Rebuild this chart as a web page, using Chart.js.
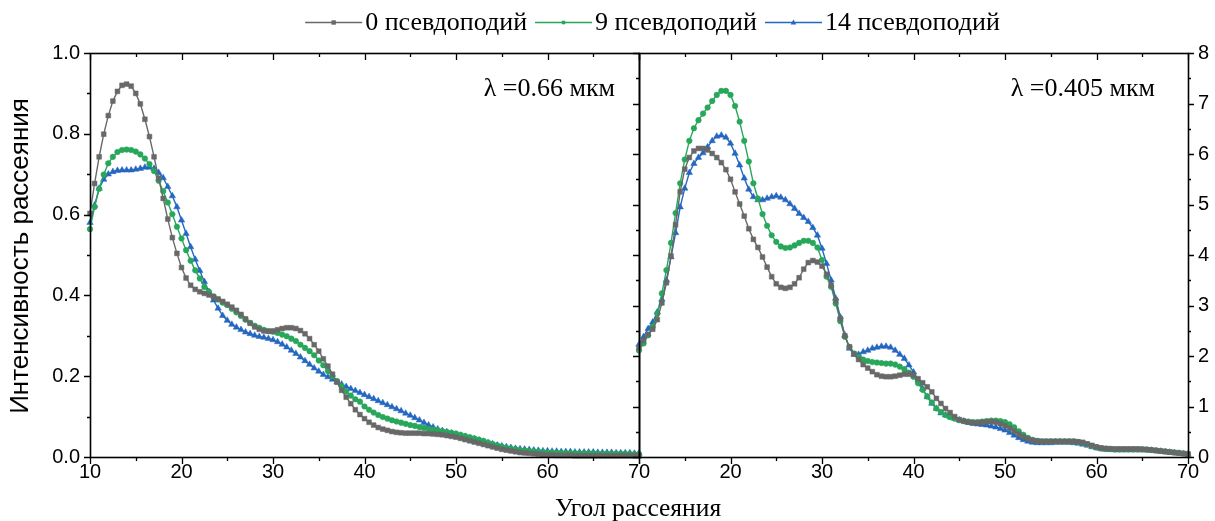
<!DOCTYPE html>
<html><head><meta charset="utf-8">
<script src="https://cdn.jsdelivr.net/npm/chart.js@4.4.1/dist/chart.umd.min.js"></script>
<style>
html,body{margin:0;padding:0;background:#fff;}
#wrap{position:relative;width:1215px;height:521px;background:#fff;}
canvas{position:absolute;left:0;top:0;}
</style></head>
<body><div id="wrap"><canvas id="cL" width="1215" height="521"></canvas><canvas id="cR" width="1215" height="521"></canvas></div>
<script>
// ---- data ----
const angles = Array.from({length: 121}, (_, i) => 10 + i * 0.5); // scattering angle, deg
const seriesNames = ['0 псевдоподий', '9 псевдоподий', '14 псевдоподий'];
const panelLabels = ['λ =0.66 мкм', 'λ =0.405 мкм'];
const xTitle = 'Угол рассеяния';
const yTitle = 'Интенсивность рассеяния';
const xTicks = [10, 20, 30, 40, 50, 60, 70];
const yTicksLeft = [0, 0.2, 0.4, 0.6, 0.8, 1.0];
const yTicksRight = [0, 1, 2, 3, 4, 5, 6, 7, 8];

// λ = 0.66 µm
const left0 = [
 0.603,0.677,0.743,0.799,0.845,0.881,0.905,0.920,0.923,0.918,
 0.900,0.874,0.836,0.793,0.743,0.690,0.640,0.589,0.543,0.504,
 0.469,0.443,0.425,0.415,0.409,0.405,0.401,0.396,0.391,0.385,
 0.378,0.371,0.363,0.353,0.342,0.331,0.322,0.316,0.312,0.311,
 0.312,0.315,0.318,0.320,0.320,0.318,0.313,0.305,0.293,0.278,
 0.262,0.243,0.225,0.205,0.185,0.165,0.148,0.132,0.117,0.105,
 0.095,0.086,0.079,0.073,0.069,0.066,0.063,0.061,0.060,0.059,
 0.059,0.059,0.059,0.058,0.058,0.057,0.056,0.055,0.053,0.051,
 0.049,0.046,0.043,0.040,0.037,0.034,0.031,0.028,0.025,0.022,
 0.019,0.017,0.015,0.013,0.011,0.010,0.009,0.008,0.007,0.006,
 0.005,0.005,0.004,0.004,0.004,0.004,0.003,0.003,0.003,0.003,
 0.003,0.003,0.003,0.003,0.003,0.003,0.003,0.003,0.003,0.003,
 0.003];
const left9 = [
 0.564,0.619,0.664,0.699,0.727,0.743,0.755,0.760,0.761,0.760,
 0.756,0.749,0.739,0.725,0.708,0.684,0.658,0.630,0.601,0.570,
 0.541,0.512,0.486,0.462,0.442,0.421,0.409,0.398,0.390,0.382,
 0.376,0.367,0.358,0.349,0.340,0.332,0.325,0.320,0.315,0.312,
 0.310,0.307,0.303,0.299,0.293,0.287,0.278,0.270,0.262,0.252,
 0.239,0.227,0.213,0.200,0.188,0.175,0.162,0.152,0.143,0.137,
 0.125,0.117,0.110,0.104,0.099,0.095,0.091,0.088,0.085,0.082,
 0.079,0.077,0.074,0.072,0.070,0.068,0.066,0.064,0.062,0.060,
 0.058,0.055,0.052,0.049,0.046,0.043,0.040,0.036,0.032,0.029,
 0.026,0.023,0.021,0.019,0.017,0.016,0.015,0.014,0.013,0.012,
 0.011,0.011,0.010,0.010,0.010,0.009,0.009,0.009,0.009,0.009,
 0.009,0.008,0.008,0.008,0.008,0.008,0.008,0.008,0.007,0.007,
 0.007];
const left14 = [
 0.580,0.623,0.665,0.687,0.700,0.706,0.709,0.710,0.710,0.710,
 0.712,0.714,0.717,0.717,0.714,0.704,0.691,0.669,0.646,0.619,
 0.586,0.553,0.520,0.489,0.461,0.434,0.409,0.388,0.368,0.350,
 0.338,0.328,0.321,0.315,0.309,0.305,0.301,0.298,0.296,0.293,
 0.290,0.285,0.279,0.272,0.264,0.256,0.247,0.238,0.229,0.220,
 0.212,0.204,0.198,0.192,0.186,0.180,0.174,0.169,0.164,0.159,
 0.154,0.149,0.144,0.139,0.134,0.129,0.124,0.119,0.114,0.108,
 0.103,0.097,0.091,0.085,0.079,0.074,0.069,0.065,0.062,0.059,
 0.056,0.053,0.050,0.047,0.044,0.041,0.038,0.035,0.032,0.029,
 0.027,0.025,0.023,0.021,0.020,0.019,0.018,0.017,0.016,0.015,
 0.015,0.014,0.014,0.013,0.013,0.013,0.012,0.012,0.012,0.012,
 0.012,0.011,0.011,0.011,0.011,0.010,0.010,0.010,0.010,0.009,
 0.009];

// λ = 0.405 µm
const right0 = [
 2.16,2.31,2.43,2.53,2.72,3.05,3.45,3.98,4.60,5.25,
 5.70,5.93,6.06,6.11,6.11,6.08,6.01,5.93,5.83,5.69,
 5.50,5.25,5.01,4.77,4.52,4.31,4.15,3.96,3.76,3.57,
 3.43,3.36,3.34,3.36,3.43,3.55,3.72,3.85,3.89,3.86,
 3.78,3.62,3.40,3.10,2.74,2.40,2.18,2.04,1.93,1.83,
 1.76,1.69,1.63,1.60,1.59,1.59,1.60,1.62,1.64,1.64,
 1.62,1.55,1.47,1.39,1.29,1.16,1.06,0.96,0.88,0.80,
 0.74,0.71,0.69,0.68,0.68,0.69,0.70,0.70,0.69,0.66,
 0.62,0.57,0.51,0.45,0.40,0.36,0.33,0.32,0.31,0.31,
 0.31,0.31,0.31,0.31,0.31,0.31,0.30,0.29,0.26,0.23,
 0.20,0.18,0.17,0.165,0.16,0.16,0.16,0.16,0.16,0.16,
 0.155,0.15,0.14,0.13,0.12,0.11,0.10,0.09,0.08,0.07,
 0.06];
const right9 = [
 2.11,2.25,2.41,2.58,2.84,3.24,3.70,4.24,4.83,5.42,
 5.89,6.26,6.51,6.67,6.80,6.92,7.05,7.17,7.25,7.25,
 7.17,6.95,6.64,6.26,5.85,5.42,5.12,4.81,4.58,4.39,
 4.26,4.17,4.14,4.15,4.19,4.24,4.28,4.28,4.24,4.15,
 3.90,3.57,3.37,3.04,2.69,2.38,2.18,2.05,1.98,1.93,
 1.90,1.88,1.87,1.86,1.85,1.85,1.83,1.79,1.74,1.67,
 1.59,1.46,1.33,1.20,1.08,0.96,0.89,0.83,0.79,0.76,
 0.73,0.71,0.70,0.69,0.69,0.70,0.71,0.72,0.72,0.71,
 0.69,0.65,0.59,0.51,0.44,0.38,0.34,0.32,0.31,0.31,
 0.31,0.31,0.31,0.31,0.31,0.31,0.30,0.28,0.25,0.22,
 0.19,0.17,0.16,0.155,0.15,0.15,0.15,0.15,0.15,0.15,
 0.15,0.145,0.14,0.13,0.12,0.11,0.10,0.09,0.08,0.07,
 0.06];
const right14 = [
 2.23,2.38,2.54,2.67,2.87,3.12,3.50,3.96,4.44,4.95,
 5.32,5.63,5.81,5.93,6.02,6.14,6.26,6.35,6.37,6.33,
 6.21,6.01,5.78,5.52,5.30,5.15,5.09,5.09,5.12,5.15,
 5.17,5.14,5.09,5.01,4.92,4.82,4.74,4.66,4.54,4.39,
 4.13,3.83,3.50,3.14,2.77,2.41,2.15,2.03,2.03,2.08,
 2.11,2.15,2.17,2.19,2.19,2.17,2.11,2.03,1.95,1.82,
 1.68,1.52,1.35,1.19,1.06,0.96,0.87,0.83,0.79,0.76,
 0.73,0.71,0.68,0.66,0.65,0.64,0.63,0.61,0.59,0.56,
 0.53,0.48,0.43,0.38,0.34,0.31,0.29,0.28,0.28,0.28,
 0.28,0.29,0.29,0.29,0.29,0.28,0.27,0.25,0.23,0.20,
 0.18,0.16,0.15,0.145,0.14,0.14,0.14,0.14,0.14,0.14,
 0.14,0.135,0.13,0.12,0.11,0.10,0.09,0.08,0.07,0.06,
 0.05];

// ---- styling ----
const colors = ['#686868', '#27a75a', '#2467c0'];
const pStyles = ['rect', 'circle', 'triangle'];
const pRadius = [3.4, 2.8, 3.7];
const W = 1215, H = 521;
const PLOT_TOP = 53, PLOT_BOTTOM = 457, L_LEFT = 90, MID = 639, R_RIGHT = 1188;
const SANS = '"Liberation Sans", Arial, sans-serif';
const SERIF = '"Liberation Serif", "Times New Roman", serif';

function makeSets(arrs) {
  return arrs.map((arr, i) => ({
    label: seriesNames[i],
    data: arr.map((v, k) => ({x: angles[k], y: v})),
    borderColor: colors[i], backgroundColor: colors[i],
    borderWidth: 1.4, pointStyle: pStyles[i], pointRadius: pRadius[i],
    pointBorderWidth: 0.5, pointBorderColor: colors[i], pointBackgroundColor: colors[i],
    tension: 0, clip: false
  }));
}

function tickPlugin(side) {
  return {
    id: 'frameTicks' + side,
    afterDraw(chart) {
      const ctx = chart.ctx, a = chart.chartArea;
      const xs = chart.scales.x, ys = chart.scales.y;
      ctx.save();
      ctx.strokeStyle = '#000';
      ctx.lineWidth = 1.3;
      ctx.beginPath();
      for (let v = 10; v <= 70; v += 5) {
        const px = Math.round(xs.getPixelForValue(v)) + 0.5;
        const len = (v % 10 === 0) ? 7 : 4;
        ctx.moveTo(px, a.bottom); ctx.lineTo(px, a.bottom + len);
        ctx.moveTo(px, a.top); ctx.lineTo(px, a.top + len);
      }
      if (side === 'L') {
        for (let k = 0; k <= 10; k++) {
          const v = k / 10;
          const py = Math.round(ys.getPixelForValue(v)) + 0.5;
          const len = (k % 2 === 0) ? 6 : 3;
          ctx.moveTo(a.left - len, py); ctx.lineTo(a.left, py);
        }
      } else {
        for (let k = 0; k <= 16; k++) {
          const v = k / 2;
          const py = Math.round(ys.getPixelForValue(v)) + 0.5;
          const len = (k % 2 === 0) ? 6 : 3;
          ctx.moveTo(a.left - len, py); ctx.lineTo(a.left, py);
          ctx.moveTo(a.right, py); ctx.lineTo(a.right + len, py);
        }
      }
      ctx.stroke();
      ctx.lineWidth = 1.6;
      ctx.strokeRect(Math.round(a.left) + 0.5, Math.round(a.top) + 0.5,
                     Math.round(a.right - a.left), Math.round(a.bottom - a.top));
      // panel label
      ctx.fillStyle = '#000';
      ctx.font = '26px ' + SERIF;
      ctx.textAlign = 'right';
      ctx.textBaseline = 'alphabetic';
      ctx.fillText(side === 'L' ? panelLabels[0] : panelLabels[1], a.right - (side === 'L' ? 24 : 33), 96);
      ctx.restore();
    }
  };
}

const textPlugin = {
  id: 'texts',
  afterDraw(chart) {
    const ctx = chart.ctx;
    ctx.save();
    ctx.fillStyle = '#000';
    // x title
    ctx.font = '25.5px ' + SERIF;
    ctx.textAlign = 'center'; ctx.textBaseline = 'middle';
    ctx.fillText(xTitle, 638, 509);
    // y title
    ctx.save();
    ctx.translate(21, 256);
    ctx.rotate(-Math.PI / 2);
    ctx.font = '26px ' + SANS;
    ctx.fillText(yTitle, 0, 0);
    ctx.restore();
    // legend
    ctx.font = '26px ' + SERIF;
    const lineLen = 57, gapA = 3, gapB = 8;
    const widths = seriesNames.map(n => ctx.measureText(n).width);
    const total = widths.reduce((s, w) => s + lineLen + gapA + w, 0) + gapB * (seriesNames.length - 1);
    let x = 652.5 - total / 2;
    const y = 22.5;
    seriesNames.forEach((n, i) => {
      ctx.strokeStyle = colors[i]; ctx.lineWidth = 1.5;
      ctx.beginPath(); ctx.moveTo(x, y); ctx.lineTo(x + lineLen, y); ctx.stroke();
      const cx = x + lineLen / 2;
      ctx.fillStyle = colors[i];
      ctx.beginPath();
      if (pStyles[i] === 'rect') ctx.rect(cx - 2.2, y - 2.2, 4.4, 4.4);
      else if (pStyles[i] === 'circle') ctx.arc(cx, y, 2.1, 0, Math.PI * 2);
      else { ctx.moveTo(cx, y - 3); ctx.lineTo(cx + 2.8, y + 2); ctx.lineTo(cx - 2.8, y + 2); ctx.closePath(); }
      ctx.fill();
      ctx.fillStyle = '#000';
      ctx.textAlign = 'left'; ctx.textBaseline = 'middle';
      ctx.fillText(n, x + lineLen + gapA, y + 1);
      x += lineLen + gapA + widths[i] + gapB;
    });
    ctx.restore();
  }
};

const tickFont = {family: SANS, size: 20};

function xScale(hideFirst) {
  return {
    type: 'linear', min: 10, max: 70, position: 'bottom',
    afterFit: s => { s.height = H - PLOT_BOTTOM; },
    afterBuildTicks: s => { s.ticks = xTicks.map(v => ({value: v})); },
    grid: {display: false, drawTicks: false}, border: {display: false},
    ticks: {color: '#000', font: tickFont, padding: 3, maxRotation: 0, autoSkip: false,
            callback: v => (hideFirst && v === 10) ? '' : String(v)}
  };
}

const baseOptions = {
  responsive: false, animation: false, devicePixelRatio: 1,
  plugins: {legend: {display: false}, tooltip: {enabled: false}},
  elements: {line: {tension: 0}}
};

new Chart(document.getElementById('cL'), {
  type: 'line',
  data: {datasets: makeSets([left0, left9, left14])},
  options: {
    ...baseOptions,
    layout: {padding: {top: PLOT_TOP, right: W - MID, bottom: 0, left: 0}},
    scales: {
      x: xScale(false),
      y: {
        type: 'linear', min: 0, max: 1, position: 'left',
        afterFit: s => { s.width = L_LEFT; },
        afterBuildTicks: s => { s.ticks = yTicksLeft.map(v => ({value: v})); },
        grid: {display: false, drawTicks: false}, border: {display: false},
        ticks: {color: '#000', font: tickFont, padding: 10, callback: v => Number(v).toFixed(1)}
      }
    }
  },
  plugins: [tickPlugin('L'), textPlugin]
});

new Chart(document.getElementById('cR'), {
  type: 'line',
  data: {datasets: makeSets([right0, right9, right14])},
  options: {
    ...baseOptions,
    layout: {padding: {top: PLOT_TOP, right: 0, bottom: 0, left: MID}},
    scales: {
      x: xScale(true),
      y: {
        type: 'linear', min: 0, max: 8, position: 'right',
        afterFit: s => { s.width = W - R_RIGHT; },
        afterBuildTicks: s => { s.ticks = yTicksRight.map(v => ({value: v})); },
        grid: {display: false, drawTicks: false}, border: {display: false},
        ticks: {color: '#000', font: tickFont, padding: 10, callback: v => String(v)}
      }
    }
  },
  plugins: [tickPlugin('R')]
});
</script>
</body></html>
